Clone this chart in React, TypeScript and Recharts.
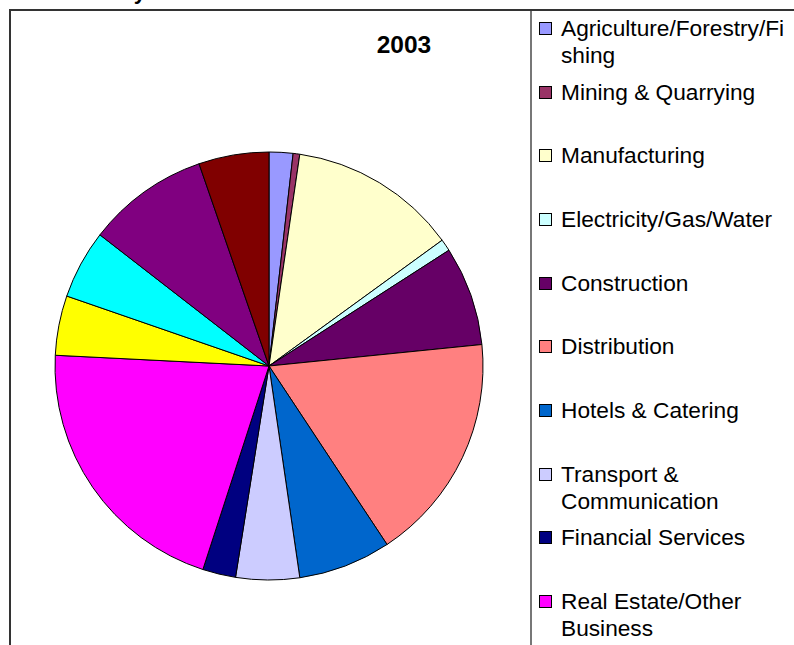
import { PieChart, Pie, Cell, Legend } from "recharts";

// sectors in the order the pie is drawn (clockwise from 12 o'clock)
const sectors = [
  "Agriculture/Forestry/Fishing",
  "Mining & Quarrying",
  "Manufacturing",
  "Electricity/Gas/Water",
  "Construction",
  "Distribution",
  "Hotels & Catering",
  "Transport & Communication",
  "Financial Services",
  "Real Estate/Other Business",
  "Public Administration",
  "Education",
  "Health & Social Work",
  "Other Services",
];

// share of total, %, 2003
const shares2003 = [1.8, 0.5, 12.7, 0.9, 7.5, 17.3, 7.0, 4.8, 2.5, 20.8, 4.5, 5.2, 9.2, 5.3];

const sectorColors = [
  "#9999FF",
  "#993366",
  "#FFFFCC",
  "#CCFFFF",
  "#660066",
  "#FF8080",
  "#0066CC",
  "#CCCCFF",
  "#000080",
  "#FF00FF",
  "#FFFF00",
  "#00FFFF",
  "#800080",
  "#800000",
];

// legend text as Excel wrapped it
const legendLines = [
  ["Agriculture/Forestry/Fi", "shing"],
  ["Mining & Quarrying"],
  ["Manufacturing"],
  ["Electricity/Gas/Water"],
  ["Construction"],
  ["Distribution"],
  ["Hotels & Catering"],
  ["Transport &", "Communication"],
  ["Financial Services"],
  ["Real Estate/Other", "Business"],
  ["Public Administration"],
  ["Education"],
  ["Health & Social Work"],
  ["Other Services"],
];

const FONT = "'Liberation Sans', Arial, sans-serif";

const pieData = sectors.map((name, i) => ({ name, value: shares2003[i] }));

// Legend drawn the way the old spreadsheet chart lays it out
const SectorLegend = () => (
  <div style={{ position: "relative", width: 256, height: 900, fontFamily: FONT }}>
    {legendLines.map((lines, i) => {
      const top = 15 + i * 63.67;
      return (
        <div key={i} style={{ position: "absolute", left: 0, top, width: 256 }}>
          <div
            style={{
              position: "absolute",
              left: 1,
              top: 7,
              width: 11,
              height: 11,
              background: sectorColors[i],
              border: "1px solid #000",
            }}
          />
          <div style={{ position: "absolute", left: 23, top: 0, fontSize: 22.7, lineHeight: "27px", color: "#000", whiteSpace: "nowrap" }}>
            {lines.map((l, j) => (
              <div key={j}>{l}</div>
            ))}
          </div>
        </div>
      );
    })}
  </div>
);

export default function App() {
  return (
    <div
      style={{
        position: "absolute",
        left: 0,
        top: 0,
        width: 794,
        height: 645,
        overflow: "hidden",
        background: "#fff",
      }}
    >
      {/* bottom of the cut-off page heading */}
      <svg width={794} height={12} style={{ position: "absolute", left: 0, top: 0 }}>
        <text x={146} y={-1.5} textAnchor="end" fontFamily={FONT} fontWeight="bold" fontSize={22} fill="#000">
          Value Added in Industry
        </text>
      </svg>

      {/* chart frame */}
      <div style={{ position: "absolute", left: 9, top: 9, width: 800, height: 2, background: "#333" }} />
      <div style={{ position: "absolute", left: 9, top: 9, width: 2, height: 700, background: "#333" }} />
      <div style={{ position: "absolute", left: 530, top: 11, width: 2, height: 700, background: "#777" }} />

      <div
        style={{
          position: "absolute",
          left: 364,
          top: 31,
          width: 80,
          textAlign: "center",
          fontFamily: FONT,
          fontWeight: "bold",
          fontSize: 24.5,
          lineHeight: "28px",
          color: "#000",
        }}
      >
        2003
      </div>

      <div style={{ position: "absolute", left: 0, top: 0 }}>
        <PieChart width={794} height={645} margin={{ top: 0, right: 0, bottom: 0, left: 0 }}>
          <Pie
            data={pieData}
            dataKey="value"
            nameKey="name"
            cx={269}
            cy={366}
            outerRadius={214}
            startAngle={90}
            endAngle={-270}
            stroke="#000"
            strokeWidth={1}
            isAnimationActive={false}
            label={false}
            labelLine={false}
          >
            {pieData.map((d, i) => (
              <Cell key={d.name} fill={sectorColors[i]} />
            ))}
          </Pie>
          <Legend
            layout="vertical"
            align="right"
            verticalAlign="top"
            content={() => <SectorLegend />}
            wrapperStyle={{ position: "absolute", left: 538, top: 0, width: 256, height: 645, overflow: "visible" }}
          />
        </PieChart>
      </div>
    </div>
  );
}
